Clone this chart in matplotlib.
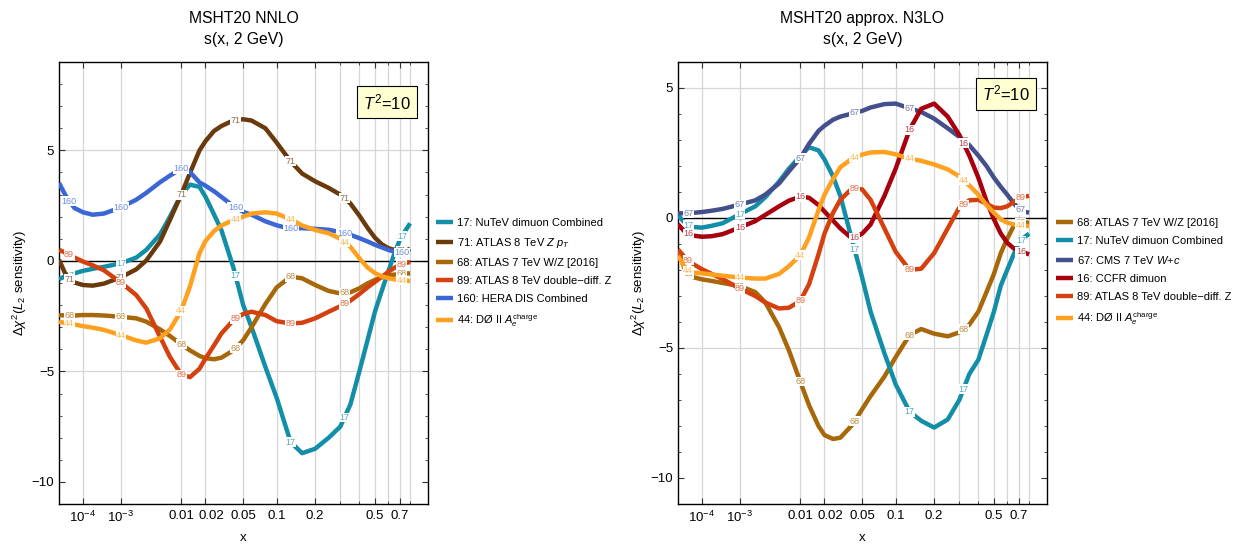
import numpy as np
import matplotlib.pyplot as plt
from matplotlib.ticker import FixedLocator, MultipleLocator
from matplotlib.transforms import ScaledTranslation

plt.rcParams['font.family'] = ['Liberation Sans', 'DejaVu Sans']
plt.rcParams['mathtext.fontset'] = 'custom'
plt.rcParams['mathtext.rm'] = 'Liberation Sans'
plt.rcParams['mathtext.it'] = 'Liberation Sans:italic'
plt.rcParams['mathtext.bf'] = 'Liberation Sans:bold'

xs = [1e-5, 2e-5, 3e-5, 5e-5, 1e-4, 2e-4, 4e-4, 1e-3, 2e-3, 3e-3, 5e-3, 7e-3,
      0.01, 0.013, 0.017, 0.02, 0.025, 0.03, 0.04, 0.05,
      0.06, 0.08, 0.1, 0.13, 0.16, 0.2, 0.25, 0.3, 0.35, 0.4, 0.45, 0.5,
      0.55, 0.6, 0.65, 0.7, 0.75, 0.8]
label_x = [3e-5, 1e-3, 0.01, 0.042, 0.13, 0.32, 0.72]

# MSHT20 NNLO
nnlo_17 = [-0.83, -0.7, -0.64, -0.56, -0.45, -0.36, -0.27, -0.11, 0.15, 0.5, 1.2, 2.0,
           3.0, 3.45, 3.35, 2.9, 2.1, 1.4, -0.3, -2.0,
           -3.0, -4.8, -6.2, -8.2, -8.7, -8.5, -8.0, -7.5, -6.5, -5.0, -3.6, -2.3,
           -1.35, -0.5, 0.3, 0.95, 1.35, 1.7]
nnlo_71 = [0.05, -0.56, -0.83, -0.98, -1.09, -1.12, -1.03, -0.74, -0.38, 0.02, 0.88, 1.86,
           3.0, 3.98, 5.0, 5.42, 5.88, 6.1, 6.36, 6.41,
           6.35, 6.0, 5.35, 4.5, 3.95, 3.6, 3.3, 3.0, 2.6, 2.05, 1.5, 1.05,
           0.75, 0.58, 0.5, 0.45, 0.45, 0.55]
nnlo_68 = [-2.45, -2.47, -2.48, -2.47, -2.45, -2.45, -2.47, -2.53, -2.6, -2.75, -3.1, -3.4,
           -3.77, -4.05, -4.3, -4.4, -4.45, -4.38, -4.05, -3.59,
           -3.0, -1.95, -1.2, -0.71, -0.79, -1.09, -1.36, -1.47, -1.42, -1.24, -1.02, -0.86,
           -0.74, -0.67, -0.62, -0.6, -0.58, -0.56]
nnlo_89 = [0.5, 0.38, 0.28, 0.15, -0.03, -0.2, -0.42, -0.98, -1.55, -2.15, -3.44, -4.35,
           -5.14, -5.26, -4.88, -4.42, -3.82, -3.29, -2.68, -2.4,
           -2.3, -2.45, -2.73, -2.83, -2.8, -2.6, -2.3, -2.05, -1.8, -1.5, -1.2, -0.95,
           -0.72, -0.5, -0.32, -0.18, -0.1, -0.05]
nnlo_160 = [3.53, 3.0, 2.7, 2.39, 2.2, 2.09, 2.14, 2.42, 2.77, 3.08, 3.56, 3.86,
            4.17, 4.02, 3.55, 3.4, 3.15, 2.9, 2.48, 2.22,
            2.09, 1.79, 1.61, 1.45, 1.48, 1.45, 1.41, 1.3, 1.18, 1.03, 0.88, 0.73,
            0.61, 0.5, 0.42, 0.38, 0.38, 0.38]
nnlo_44 = [-2.76, -2.8, -2.83, -2.88, -2.95, -3.02, -3.12, -3.36, -3.6, -3.7, -3.5, -3.1,
           -2.26, -1.15, 0.35, 0.9, 1.35, 1.6, 1.85, 2.0,
           2.14, 2.2, 2.14, 1.88, 1.6, 1.4, 1.25, 1.0, 0.64, 0.12, -0.3, -0.55,
           -0.7, -0.78, -0.83, -0.86, -0.89, -0.91]

# MSHT20 approx. N3LO
n3lo_68 = [-1.33, -1.9, -2.15, -2.28, -2.36, -2.42, -2.5, -2.62, -2.85, -3.25, -4.2, -5.1,
           -6.29, -7.2, -8.0, -8.35, -8.5, -8.45, -7.95, -7.35,
           -6.85, -6.1, -5.35, -4.5, -4.27, -4.45, -4.55, -4.4, -4.1, -3.6, -2.85, -2.15,
           -1.35, -0.8, -0.35, -0.2, -0.18, -0.18]
n3lo_17 = [0.1, -0.15, -0.28, -0.35, -0.37, -0.3, -0.2, 0.15, 0.45, 0.8, 1.4, 1.9,
           2.38, 2.72, 2.6, 2.25, 1.6, 0.85, -0.9, -2.3,
           -3.6, -5.2, -6.4, -7.45, -7.8, -8.06, -7.75, -7.0, -6.0, -5.45, -4.5, -3.6,
           -2.6, -2.0, -1.45, -0.95, -0.75, -0.6]
n3lo_67 = [0.18, 0.18, 0.18, 0.2, 0.23, 0.28, 0.35, 0.52, 0.68, 0.9, 1.33, 1.8,
           2.3, 2.85, 3.35, 3.55, 3.78, 3.9, 4.02, 4.12,
           4.25, 4.38, 4.4, 4.22, 4.08, 3.82, 3.45, 3.12, 2.8, 2.4, 2.0, 1.55,
           1.2, 0.9, 0.6, 0.35, 0.25, 0.2]
n3lo_16 = [-0.24, -0.5, -0.6, -0.68, -0.72, -0.7, -0.62, -0.36, -0.12, 0.12, 0.45, 0.67,
           0.82, 0.78, 0.5, 0.25, -0.1, -0.4, -0.8, -0.6,
           -0.25, 0.85, 1.9, 3.4, 4.2, 4.4, 3.9, 3.2, 2.4, 1.55, 0.65, -0.05,
           -0.6, -0.95, -1.15, -1.27, -1.33, -1.4]
n3lo_89 = [-1.21, -1.48, -1.62, -1.78, -1.97, -2.15, -2.35, -2.72, -3.0, -3.25, -3.48, -3.45,
           -3.19, -2.55, -1.4, -0.6, 0.2, 0.7, 1.15, 1.1,
           0.7, -0.4, -1.3, -2.0, -1.95, -1.35, -0.4, 0.4, 0.68, 0.7, 0.55, 0.4,
           0.38, 0.45, 0.6, 0.75, 0.82, 0.85]
n3lo_44 = [-1.46, -1.85, -2.02, -2.1, -2.13, -2.17, -2.22, -2.29, -2.33, -2.33, -2.15, -1.85,
           -1.44, -0.75, 0.3, 0.9, 1.5, 1.95, 2.3, 2.44,
           2.52, 2.54, 2.45, 2.28, 2.2, 2.06, 1.87, 1.6, 1.25, 0.9, 0.5, 0.2,
           -0.05, -0.18, -0.24, -0.27, -0.29, -0.31]

colors = {'17': '#138ea8', '71': '#6b3a0c', '68': '#a8680a', '89': '#d4400e',
          '160': '#3a66d6', '44': '#ffa01e', '67': '#44508c', '16': '#a8000c'}

names = {'17': '17: NuTeV dimuon Combined',
         '71': r'71: ATLAS 8 TeV $Z$ $p_T$',
         '68': '68: ATLAS 7 TeV W/Z [2016]',
         '89': '89: ATLAS 8 TeV double\u2212diff. Z',
         '160': '160: HERA DIS Combined',
         '44': r'44: DØ II $A_e^{\mathrm{charge}}$',
         '67': r'67: CMS 7 TeV $W\!+\!c$',
         '16': '16: CCFR dimuon'}

left_sets = [('17', nnlo_17), ('71', nnlo_71), ('68', nnlo_68),
             ('89', nnlo_89), ('160', nnlo_160), ('44', nnlo_44)]
right_sets = [('68', n3lo_68), ('17', n3lo_17), ('67', n3lo_67),
              ('16', n3lo_16), ('89', n3lo_89), ('44', n3lo_44)]


def fwd(v):
    return np.power(np.abs(v), 0.2)


def inv(v):
    return np.power(np.abs(v), 5.0)


def lighter(c, k=0.25):
    r, g, b = plt.matplotlib.colors.to_rgb(c)
    return (r + (1 - r) * k, g + (1 - g) * k, b + (1 - b) * k)


def panel(ax, sets, ylim, title, box_y):
    xa = np.array(xs)
    for i, (key, ys) in enumerate(sets):
        ax.plot(xs, ys, color=colors[key], lw=3.2, solid_capstyle='butt',
                solid_joinstyle='round', label=names[key], zorder=3 + i)
        ly = np.interp(fwd(np.array(label_x)), fwd(xa), ys)
        for lx, yy in zip(label_x, ly):
            ax.text(lx, yy, key, fontsize=6.5, color=lighter(colors[key]),
                    ha='center', va='center', zorder=3.5 + i,
                    bbox=dict(boxstyle='square,pad=0.05', fc='white', ec='none'))
    ax.set_xscale('function', functions=(fwd, inv))
    ax.set_xlim(1e-5, 1.0)
    ax.set_ylim(*ylim)
    ax.xaxis.set_major_locator(FixedLocator([1e-4, 1e-3, 0.01, 0.02, 0.05, 0.1, 0.2, 0.5, 0.7]))
    ax.xaxis.set_minor_locator(FixedLocator([0.3, 0.4, 0.6, 0.8]))
    ax.set_xticklabels(['$10^{-4}$', '$10^{-3}$', '0.01', '0.02', '0.05',
                        '0.1', '0.2', '0.5', '0.7'])
    ax.xaxis.set_minor_formatter(plt.NullFormatter())
    ax.yaxis.set_major_locator(MultipleLocator(5))
    ax.yaxis.set_minor_locator(MultipleLocator(1))
    ax.tick_params(which='both', direction='in', top=True, right=True,
                   labelsize=9.5, color='#333333')
    ax.tick_params(which='major', length=4.5)
    ax.tick_params(which='minor', length=2.5)
    ax.tick_params(axis='x', pad=4)
    # nudge the crowded 0.02 label to the right, like the reference
    for lab in ax.get_xticklabels():
        if lab.get_text() == '0.02':
            lab.set_transform(lab.get_transform() + ScaledTranslation(0.06, 0, fig.dpi_scale_trans))
    ax.grid(True, axis='x', which='both', color='#d6d6d6', lw=0.9, zorder=0)
    for yv in (5, -5):
        ax.axhline(yv, color='#d6d6d6', lw=0.9, zorder=0)
    ax.axhline(0, color='black', lw=1.0, zorder=2)
    for s in ax.spines.values():
        s.set_linewidth(1.0)
    ax.set_xlabel('x', fontsize=9.5, labelpad=5)
    ax.set_ylabel(r'$\Delta\chi^2$($L_2$ sensitivity)', fontsize=9.5, labelpad=2)
    ax.set_title(title + '\ns(x, 2 GeV)', fontsize=11.3, pad=13, linespacing=1.5)
    ax.text(0.889, box_y, r'$T^2$=10', transform=ax.transAxes, fontsize=12,
            ha='center', va='center', zorder=20,
            bbox=dict(boxstyle='square,pad=0.35', fc='#ffffd2', ec='black', lw=0.8))


fig = plt.figure(figsize=(12.39, 5.44), dpi=100)
ax1 = fig.add_axes([59 / 1239, 40 / 544, 369 / 1239, 442 / 544])
ax2 = fig.add_axes([678 / 1239, 40 / 544, 369 / 1239, 442 / 544])

panel(ax1, left_sets, (-11, 9), 'MSHT20 NNLO', 0.909)
panel(ax2, right_sets, (-11, 6), 'MSHT20 approx. N3LO', 0.928)

for ax, x0 in ((ax1, 436), (ax2, 1056)):
    h, l = ax.get_legend_handles_labels()
    fig.legend(h, l, loc='upper left', bbox_to_anchor=(x0 / 1239, 1 - 218 / 544),
               frameon=False, fontsize=8, handlelength=1.5, handletextpad=0.4,
               labelspacing=0.72, borderpad=0, borderaxespad=0)

fig.savefig('out.png', dpi=100)
